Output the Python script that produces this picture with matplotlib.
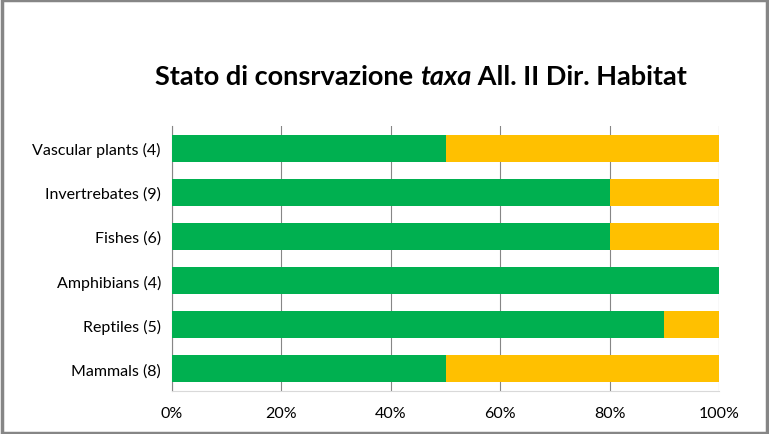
import matplotlib
matplotlib.use("Agg")
import matplotlib.pyplot as plt
from matplotlib.patches import Rectangle


CATEGORIES = [
    "Vascular plants (4)",
    "Invertrebates (9)",
    "Fishes (6)",
    "Amphibians (4)",
    "Reptiles (5)",
    "Mammals (8)",
]

GREEN = [50, 80, 80, 100, 90, 50]
YELLOW = [50, 20, 20, 0, 10, 50]

TICKS = [0, 20, 40, 60, 80, 100]
TICK_LABELS = ["0%", "20%", "40%", "60%", "80%", "100%"]

plt.rcParams["font.family"] = ["Lato", "DejaVu Sans"]

fig = plt.figure(figsize=(7.69, 4.35), dpi=100)
ax = fig.add_axes([172 / 769, 1 - 392 / 435, 547 / 769, 265 / 435])

ypos = list(range(len(CATEGORIES)))[::-1]

ax.barh(ypos, GREEN, height=0.61, color="#00B050", zorder=3)
ax.barh(ypos, YELLOW, left=GREEN, height=0.61, color="#FFC000", zorder=3)

ax.set_xlim(0, 100)
ax.set_ylim(-0.5, len(CATEGORIES) - 0.5)

ax.set_xticks(TICKS)
ax.set_xticklabels(TICK_LABELS, fontsize=11.5)
ax.set_yticks(ypos)
ax.set_yticklabels(CATEGORIES, fontsize=11.5)

ax.tick_params(axis="x", length=0, pad=11)
ax.tick_params(axis="y", length=0, pad=8)

ax.grid(axis="x", color="#868686", linewidth=0.8, zorder=0)

for side in ["top", "right"]:
    ax.spines[side].set_visible(False)
ax.spines["left"].set_color("#868686")
ax.spines["bottom"].set_color("#D9D9D9")

# title in three pieces so only "taxa" is italic
title_y = 1 - 77 / 435
t1 = fig.text(155 / 769, title_y, "Stato di consrvazione ", fontsize=19.5,
              fontweight="bold", ha="left", va="center")
fig.canvas.draw()
bb = t1.get_window_extent()
t2 = fig.text(bb.x1 / fig.bbox.width, title_y, "taxa", fontsize=19.5,
              fontweight="bold", style="italic", ha="left", va="center")
fig.canvas.draw()
bb2 = t2.get_window_extent()
fig.text(bb2.x1 / fig.bbox.width, title_y, " All. II Dir. Habitat",
         fontsize=19.5, fontweight="bold", ha="left", va="center")

fig.patches.append(Rectangle((0.002, 0.003), 0.996, 0.994, transform=fig.transFigure,
                             fill=False, edgecolor="#868686", linewidth=2.5))

fig.savefig("out.png", dpi=100)
